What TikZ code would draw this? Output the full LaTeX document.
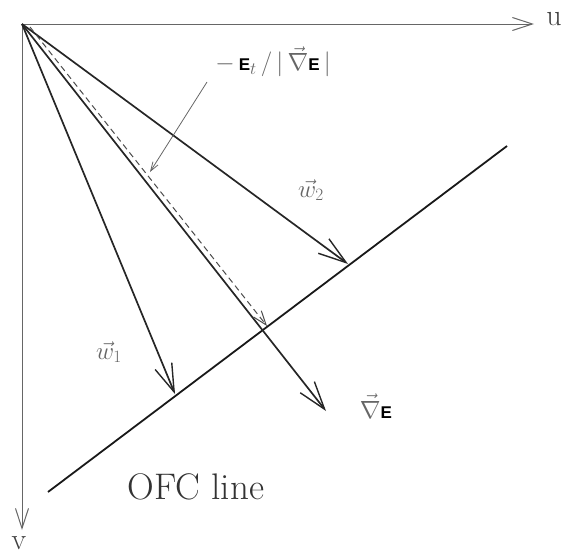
\documentclass[tikz,border=0pt]{standalone}
\usepackage{fontspec}
\newfontfamily\sansE{Liberation Sans}
\usetikzlibrary{arrows.meta}
\newcommand\EE{\mbox{\color{black}\fontsize{17}{20}\selectfont\sansE\bfseries E}}
\begin{document}
\begin{tikzpicture}[x=1pt,y=-1pt,
  vecarrow/.style={draw=black!85, line width=1.7pt, -{Straight Barb[length=28pt,width=18pt,line width=1.4pt]}},
  axisarrow/.style={draw=black!60, line width=0.9pt, -{Straight Barb[length=20pt,width=13pt,line width=1pt]}},
  ofc/.style={draw=black!90, line width=1.8pt},
  dasharrow/.style={draw=black!70, line width=1pt, dash pattern=on 6pt off 4pt, -{Straight Barb[length=14pt,width=10pt,line width=1pt]}},
  pointer/.style={draw=black!60, line width=0.8pt, -{Straight Barb[length=9pt,width=6pt,line width=0.8pt]}},
  lbl/.style={text=black!60, inner sep=0pt, font=\fontsize{27}{30}\selectfont},
]
\useasboundingbox (0,0) rectangle (566,554);
\coordinate (O) at (22,24);
\coordinate (Uend) at (534,24);
\coordinate (Vend) at (22,530);
\coordinate (L1) at (48,492);
\coordinate (L2) at (507,146);
\coordinate (W1) at (175,394);
\coordinate (W2) at (348,264);
\coordinate (G) at (326,411);
\coordinate (Ds) at (30,27);
\coordinate (Dt) at (267,326);
\coordinate (Ps) at (207,82);
\coordinate (Pt) at (150,172);

\draw[axisarrow] (O) -- (Uend);
\draw[axisarrow] (O) -- (Vend);
\draw[ofc] (L1) -- (L2);
\draw[vecarrow] (O) -- (W1);
\draw[vecarrow] (O) -- (W2);
\draw[vecarrow] (O) -- (G);
\draw[dasharrow] (Ds) -- (Dt);
\draw[pointer] (Ps) -- (Pt);

\node[lbl, text=black!75, font=\fontsize{30}{34}\selectfont] (ulbl) at (554,19) {u};
\node[lbl, text=black!75, font=\fontsize{30}{34}\selectfont] (vlbl) at (19,543) {v};
\node[lbl, font=\fontsize{24}{28}\selectfont] (etlbl) at (273,62) {$-\,\EE_t\,/\,|\,\vec{\nabla}\EE\,|$};
\node[lbl] (w2lbl) at (311,190) {$\vec{w}_2$};
\node[lbl] (w1lbl) at (109,352) {$\vec{w}_1$};
\node[lbl] (glbl) at (376,406) {$\vec{\nabla}\EE$};
\node[lbl, text=black!80, font=\fontsize{37}{42}\selectfont] (ofclbl) at (196,487) {OFC line};
\end{tikzpicture}
\end{document}
